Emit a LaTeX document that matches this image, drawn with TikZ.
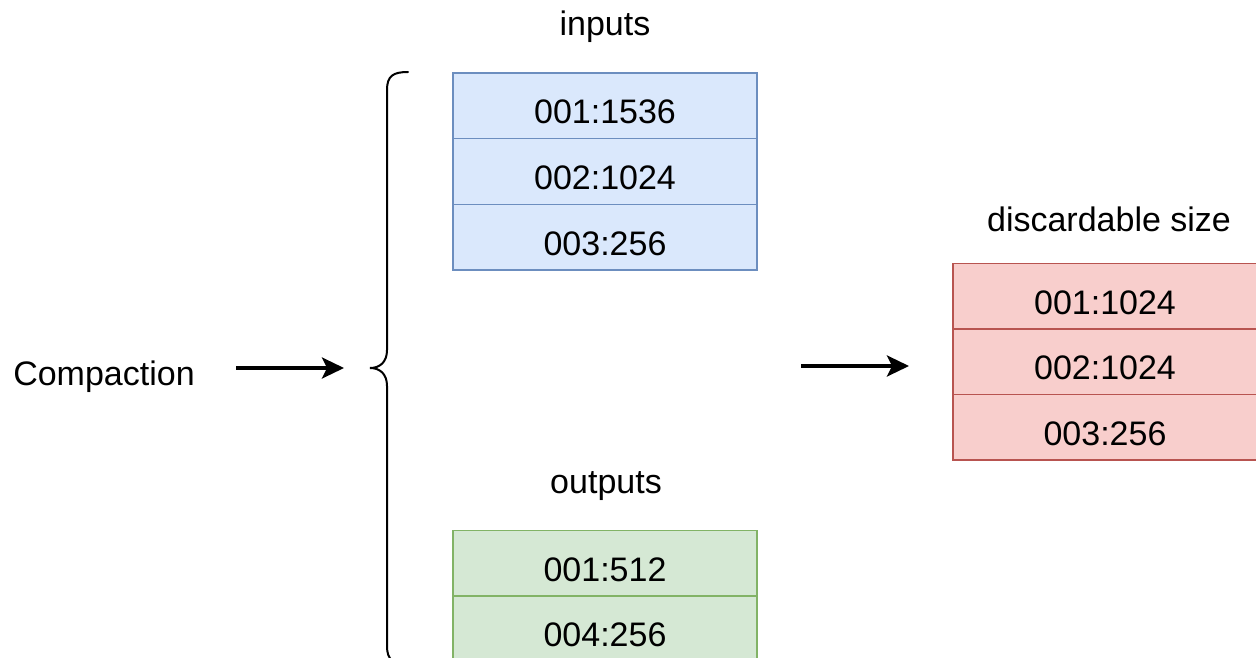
\documentclass[tikz,border=0pt]{standalone}
\usepackage{fontspec}
\setmainfont{Liberation Sans}
\usetikzlibrary{arrows.meta}
\definecolor{bfill}{HTML}{DAE8FC}\definecolor{bline}{HTML}{6C8EBF}
\definecolor{gfill}{HTML}{D5E8D4}\definecolor{gline}{HTML}{82B366}
\definecolor{rfill}{HTML}{F8CECC}\definecolor{rline}{HTML}{B85450}
\begin{document}
\begin{tikzpicture}[x=1pt,y=-1pt,
  every node/.style={font=\fontsize{34}{40}\selectfont},
  cell/.style={rectangle,minimum width=304pt,minimum height=65.5pt,inner sep=0pt,line width=1.5pt,text height=36pt,text depth=0pt},
  bluecell/.style={cell,fill=bfill,draw=bline},
  greencell/.style={cell,fill=gfill,draw=gline},
  redcell/.style={cell,fill=rfill,draw=rline},
  arr/.style={line width=3.2pt,-{Stealth[length=22pt,width=21pt,inset=5pt]}},
  brace/.style={line width=2pt,line cap=round}]
\useasboundingbox (0,0) rectangle (1256,658);
\clip (0,0) rectangle (1256,658);
\fill[white] (0,0) rectangle (1256,658);
% labels
\node (inputs) at (605,27) {inputs};
\node (outputs) at (606,486) {outputs};
\node (disc) at (1109,219) {discardable size};
\node (comp) at (104,377) {Compaction};
% inputs
\node[bluecell] (i1) at (605,106) {001:1536};
\node[bluecell] (i2) at (605,171.5) {002:1024};
\node[bluecell] (i3) at (605,237) {003:256};
% outputs
\node[greencell] (o1) at (605,563) {001:512};
\node[greencell] (o2) at (605,628.5) {004:256};
% discardable
\node[redcell] (d1) at (1105,296) {001:1024};
\node[redcell] (d2) at (1105,361.5) {002:1024};
\node[redcell] (d3) at (1105,427) {003:256};
% arrows
\coordinate (a1s) at (236,368);
\coordinate (a1e) at (344,368);
\coordinate (a2s) at (801,366);
\coordinate (a2e) at (909,366);
\draw[arr] (a1s) -- (a1e);
\draw[arr] (a2s) -- (a2e);
% brace
\coordinate (bt) at (408,72);
\coordinate (btip) at (370,368);
\coordinate (bb) at (408,664);
\draw[brace] (bt) .. controls (393,72) and (387,76) .. (387,90)
  -- (387,350) .. controls (387,362) and (380,368) .. (btip)
  .. controls (380,368) and (387,374) .. (387,386)
  -- (387,646) .. controls (387,660) and (393,664) .. (bb);
\end{tikzpicture}
\end{document}
